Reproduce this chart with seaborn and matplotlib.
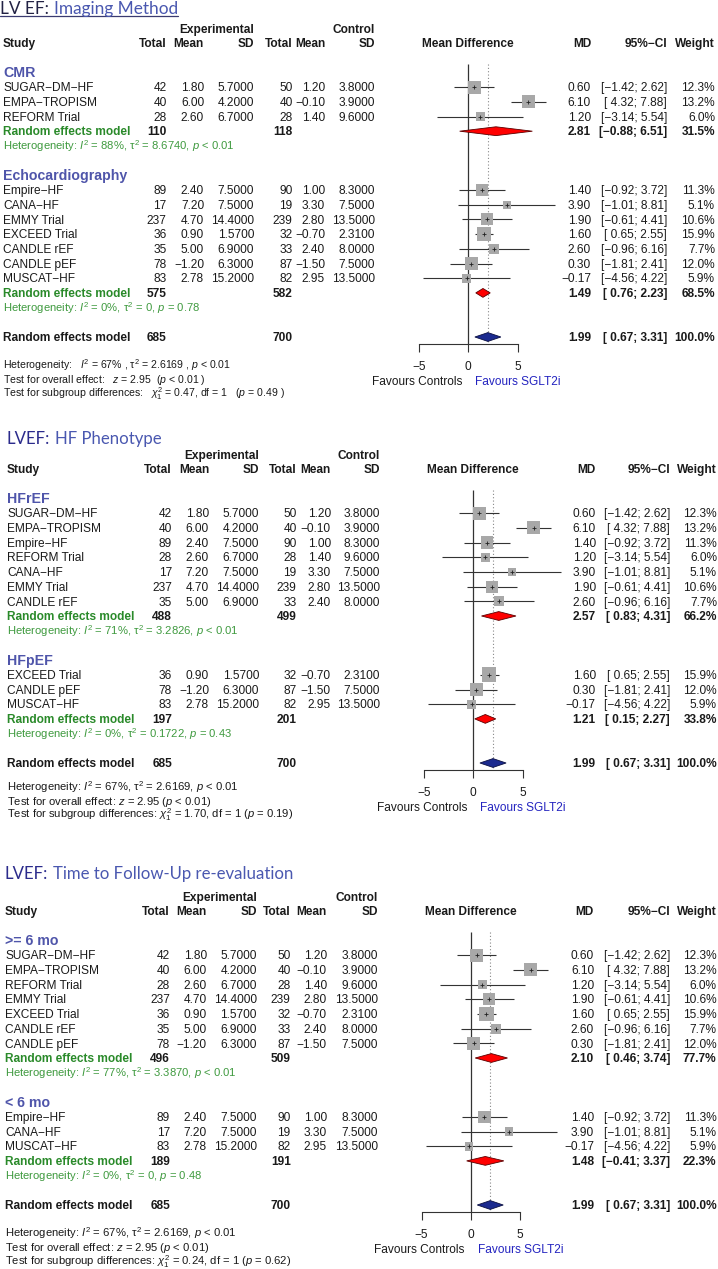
import pandas as pd
import matplotlib.pyplot as plt
import seaborn as sns

# ---- study level data ----
study = ["SUGAR−DM−HF", "EMPA−TROPISM", "REFORM Trial", "Empire−HF", "CANA−HF",
         "EMMY Trial", "EXCEED Trial", "CANDLE rEF", "CANDLE pEF", "MUSCAT−HF"]
exp_n = [42, 40, 28, 89, 17, 237, 36, 35, 78, 83]
exp_mean = [1.80, 6.00, 2.60, 2.40, 7.20, 4.70, 0.90, 5.00, -1.20, 2.78]
exp_sd = [5.7, 4.2, 6.7, 7.5, 7.5, 14.4, 1.57, 6.9, 6.3, 15.2]
ctl_n = [50, 40, 28, 90, 19, 239, 32, 33, 87, 82]
ctl_mean = [1.20, -0.10, 1.40, 1.00, 3.30, 2.80, -0.70, 2.40, -1.50, 2.95]
ctl_sd = [3.8, 3.9, 9.6, 8.3, 7.5, 13.5, 2.31, 8.0, 7.5, 13.5]
md = [0.60, 6.10, 1.20, 1.40, 3.90, 1.90, 1.60, 2.60, 0.30, -0.17]
ci_lo = [-1.42, 4.32, -3.14, -0.92, -1.01, -0.61, 0.65, -0.96, -1.81, -4.56]
ci_hi = [2.62, 7.88, 5.54, 3.72, 8.81, 4.41, 2.55, 6.16, 2.41, 4.22]
weight = [12.3, 13.2, 6.0, 11.3, 5.1, 10.6, 15.9, 7.7, 12.0, 5.9]

# ---- panels / subgroups ----
title_a = ["LV EF:", "LVEF:", "LVEF:"]
title_b = ["Imaging Method", "HF Phenotype", "Time to Follow-Up re-evaluation"]
group_names = [["CMR", "Echocardiography"], ["HFrEF", "HFpEF"], [">= 6 mo", "< 6 mo"]]
group_members = [
    [["SUGAR−DM−HF", "EMPA−TROPISM", "REFORM Trial"],
     ["Empire−HF", "CANA−HF", "EMMY Trial", "EXCEED Trial", "CANDLE rEF", "CANDLE pEF", "MUSCAT−HF"]],
    [["SUGAR−DM−HF", "EMPA−TROPISM", "Empire−HF", "REFORM Trial", "CANA−HF", "EMMY Trial", "CANDLE rEF"],
     ["EXCEED Trial", "CANDLE pEF", "MUSCAT−HF"]],
    [["SUGAR−DM−HF", "EMPA−TROPISM", "REFORM Trial", "EMMY Trial", "EXCEED Trial", "CANDLE rEF", "CANDLE pEF"],
     ["Empire−HF", "CANA−HF", "MUSCAT−HF"]],
]
sub_n_exp = [[110, 575], [488, 197], [496, 189]]
sub_n_ctl = [[118, 582], [499, 201], [509, 191]]
sub_md = [[2.81, 1.49], [2.57, 1.21], [2.10, 1.48]]
sub_lo = [[-0.88, 0.76], [0.83, 0.15], [0.46, -0.41]]
sub_hi = [[6.51, 2.23], [4.31, 2.27], [3.74, 3.37]]
sub_w = [[31.5, 68.5], [66.2, 33.8], [77.7, 22.3]]
sub_i2 = [["88%", "0%"], ["71%", "0%"], ["77%", "0%"]]
sub_tau2 = [["8.6740", "0"], ["3.2826", "0.1722"], ["3.3870", "0"]]
sub_p = [["< 0.01", "= 0.78"], ["< 0.01", "= 0.43"], ["< 0.01", "= 0.48"]]

overall_n = [685, 700]
overall_md, overall_lo, overall_hi = 1.99, 0.67, 3.31
subgroup_chi2 = ["0.47", "1.70", "0.24"]
subgroup_p = ["0.49", "0.19", "0.62"]

# ---- layout (pixels) ----
W, H = 718, 1269
ROW = 14.7
FS = 8.6
SFS = 8.1
y0s = [43, 469, 911]
x0s = [468.3, 473.3, 470.7]
sxs = [9.84, 9.9, 9.83]
cols = [
    [3, 166.7, 204, 254, 292.5, 325, 375, 591, 667, 715],
    [7, 172, 209, 259, 296.7, 330.7, 380, 595.7, 670, 717],
    [5, 170, 206.7, 256.7, 290.7, 326.7, 378, 594, 670, 716.7],
]
title_px = [8, 438, 873]
bottom_rows = [[21.9, 22.86, 23.8], [21.6, 22.55, 23.5], [21.93, 22.84, 23.8]]
AXROW = 20.5

INK = "#1a1a1a"
BLUEGRP = "#4F55AA"
GREEN = "#2A8A2A"
GREEN2 = "#3F9A3F"
GRAY = "#A8A8A8"

sns.set_theme(style="white")
plt.rcParams["font.family"] = ["Liberation Sans", "DejaVu Sans"]
plt.rcParams["mathtext.fontset"] = "custom"
plt.rcParams["mathtext.rm"] = "Liberation Sans"
plt.rcParams["mathtext.it"] = "Liberation Sans:italic"
plt.rcParams["mathtext.bf"] = "Liberation Sans:bold"


def f2(v):
    return f"{v:.2f}".replace("-", "−")


def fci(lo, hi):
    return f"[{lo:5.2f}; {hi:4.2f}]".replace("-", "−")


fig = plt.figure(figsize=(W / 100, H / 100), dpi=100)
renderer = fig.canvas.get_renderer()
idx = {s: i for i, s in enumerate(study)}

for k in range(3):
    ax = fig.add_axes([0, 0, 1, 1])
    ax.patch.set_visible(False)
    x0, sx, y0 = x0s[k], sxs[k], y0s[k]
    c = cols[k]
    tr = ax.get_yaxis_transform()

    def txt(px, row, s, size=FS, **kw):
        kw.setdefault("color", INK)
        off = 0.716 * size / 0.72 / 2 / ROW
        return ax.text(px / W, row + off, s, transform=tr, fontsize=size, va="baseline", **kw)

    # title
    trow = (title_px[k] - y0) / ROW
    tx = 0 if k == 0 else (7 if k == 1 else 5)
    a_col = "#222244" if k == 0 else "#2B2B8C"
    tsize = 12.4 if k == 0 else 12.1
    t1 = txt(tx, trow, title_a[k], size=tsize, family="Lato", color=a_col)
    bb = t1.get_window_extent(renderer=renderer)
    t2 = txt(bb.x1 + 4.5, trow, title_b[k], size=tsize, family="Lato", color="#4A58B0")
    if k == 0:
        bb2 = t2.get_window_extent(renderer=renderer)
        urow = (15.5 - y0) / ROW
        ax.plot([0, bb2.x1 / W], [urow, urow], transform=tr, color="#3A3A70", lw=0.9)

    # header
    txt(c[3], -1, "Experimental", ha="right", weight="bold")
    txt(c[6], -1, "Control", ha="right", weight="bold")
    txt(c[0], 0, "Study", weight="bold")
    for j, lab in zip(range(1, 7), ["Total", "Mean", "SD", "Total", "Mean", "SD"]):
        txt(c[j], 0, lab, ha="right", weight="bold")
    ax.text(0, 0 + 0.29, "Mean Difference", transform=ax.transData, ha="center",
            va="baseline", fontsize=FS, weight="bold", color=INK)
    txt(c[7], 0, "MD", ha="right", weight="bold")
    txt(c[8], 0, "95%−CI", ha="right", weight="bold")
    txt(c[9], 0, "Weight", ha="right", weight="bold")

    recs = []
    row = 2
    for g in range(2):
        txt(c[0], row, group_names[k][g], size=10.2, weight="bold", color=BLUEGRP)
        row += 1
        for s in group_members[k][g]:
            i = idx[s]
            recs.append(dict(row=row, md=md[i], lo=ci_lo[i], hi=ci_hi[i], weight=weight[i]))
            txt(c[0], row, s)
            txt(c[1], row, str(exp_n[i]), ha="right")
            txt(c[2], row, f2(exp_mean[i]), ha="right")
            txt(c[3], row, f"{exp_sd[i]:.4f}", ha="right")
            txt(c[4], row, str(ctl_n[i]), ha="right")
            txt(c[5], row, f2(ctl_mean[i]), ha="right")
            txt(c[6], row, f"{ctl_sd[i]:.4f}", ha="right")
            txt(c[7], row, f2(md[i]), ha="right")
            txt(c[8], row, fci(ci_lo[i], ci_hi[i]), ha="right")
            txt(c[9], row, f"{weight[i]:.1f}%", ha="right")
            row += 1
        # subgroup random effects
        txt(c[0], row, "Random effects model", weight="bold", color=GREEN)
        txt(c[1], row, str(sub_n_exp[k][g]), ha="right", weight="bold")
        txt(c[4], row, str(sub_n_ctl[k][g]), ha="right", weight="bold")
        txt(c[7], row, f2(sub_md[k][g]), ha="right", weight="bold")
        txt(c[8], row, fci(sub_lo[k][g], sub_hi[k][g]), ha="right", weight="bold")
        txt(c[9], row, f"{sub_w[k][g]:.1f}%", ha="right", weight="bold")
        m, lo, hi = sub_md[k][g], sub_lo[k][g], sub_hi[k][g]
        ax.fill([lo, m, hi, m], [row, row - 0.3, row, row + 0.3], facecolor="#FF0000",
                edgecolor="#5a0000", lw=0.6, zorder=3)
        row += 1
        txt(c[0], row, f"Heterogeneity: $I^2$ = {sub_i2[k][g]}, τ$^2$ = {sub_tau2[k][g]}, $p$ {sub_p[k][g]}",
            size=SFS, color=GREEN2)
        row += 2

    # overall
    txt(c[0], row, "Random effects model", weight="bold")
    txt(c[1], row, str(overall_n[0]), ha="right", weight="bold")
    txt(c[4], row, str(overall_n[1]), ha="right", weight="bold")
    txt(c[7], row, f2(overall_md), ha="right", weight="bold")
    txt(c[8], row, fci(overall_lo, overall_hi), ha="right", weight="bold")
    txt(c[9], row, "100.0%", ha="right", weight="bold")
    ax.fill([overall_lo, overall_md, overall_hi, overall_md], [row, row - 0.3, row, row + 0.3],
            facecolor="#1B2A8F", edgecolor="#0a0f40", lw=0.6, zorder=3)

    df = pd.DataFrame(recs)
    ax.hlines(df["row"], df["lo"], df["hi"], color="#333333", lw=0.8, zorder=2)
    sns.scatterplot(data=df, x="md", y="row", size="weight", sizes=(0, 140), size_norm=(0, 20),
                    marker="s", color=GRAY, edgecolor="none", linewidth=0, legend=False, ax=ax, zorder=3)
    sns.scatterplot(data=df, x="md", y="row", marker="+", s=9, color="#222222", linewidth=0.6,
                    legend=False, ax=ax, zorder=4)

    ax.vlines(0, 1.45, AXROW, color="#333333", lw=0.9, zorder=1)
    ax.vlines(overall_md, 1.45, AXROW, color="#888888", lw=0.8, linestyles=(0, (1, 2)), zorder=1)

    # bottom stats
    br = bottom_rows[k]
    if k == 0:
        s1 = "Heterogeneity:   $I^2$ = 67% , τ$^2$ = 2.6169 , $p$ < 0.01"
        s2 = "Test for overall effect:   $z$ = 2.95  ($p$ < 0.01 )"
        s3 = f"Test for subgroup differences:   $\\chi^2_1$ = {subgroup_chi2[k]}, df = 1   ($p$ = {subgroup_p[k]} )"
        bsize = 7.6
    else:
        s1 = "Heterogeneity: $I^2$ = 67%, τ$^2$ = 2.6169, $p$ < 0.01"
        s2 = "Test for overall effect: $z$ = 2.95 ($p$ < 0.01)"
        s3 = f"Test for subgroup differences: $\\chi^2_1$ = {subgroup_chi2[k]}, df = 1 ($p$ = {subgroup_p[k]})"
        bsize = SFS
    txt(c[0], br[0], s1, size=bsize)
    txt(c[0], br[1], s2, size=bsize)
    txt(c[0], br[2], s3, size=bsize)

    # favours labels
    ax.text(-0.6, 23.0 + 0.29, "Favours Controls", ha="right", va="baseline", fontsize=FS, color=INK)
    ax.text(0.7, 23.0 + 0.29, "Favours SGLT2i", ha="left", va="baseline", fontsize=FS, color="#2424C0")

    # axis
    ax.set_xlim(-x0 / sx, (W - x0) / sx)
    ax.set_ylim((H - y0) / ROW, -y0 / ROW)
    ax.set_xlabel("")
    ax.set_ylabel("")
    ax.grid(False)
    for side in ["top", "left", "right"]:
        ax.spines[side].set_visible(False)
    sp = ax.spines["bottom"]
    sp.set_visible(True)
    sp.set_position(("data", AXROW))
    sp.set_bounds(-5, 5)
    sp.set_linewidth(0.8)
    sp.set_color("#333333")
    ax.set_xticks([-5, 0, 5])
    ax.set_yticks([])
    ax.tick_params(axis="x", bottom=True, direction="out", length=6, width=0.8, color="#333333",
                   pad=6, labelsize=FS, labelcolor=INK)

fig.savefig("out.png", dpi=100)
